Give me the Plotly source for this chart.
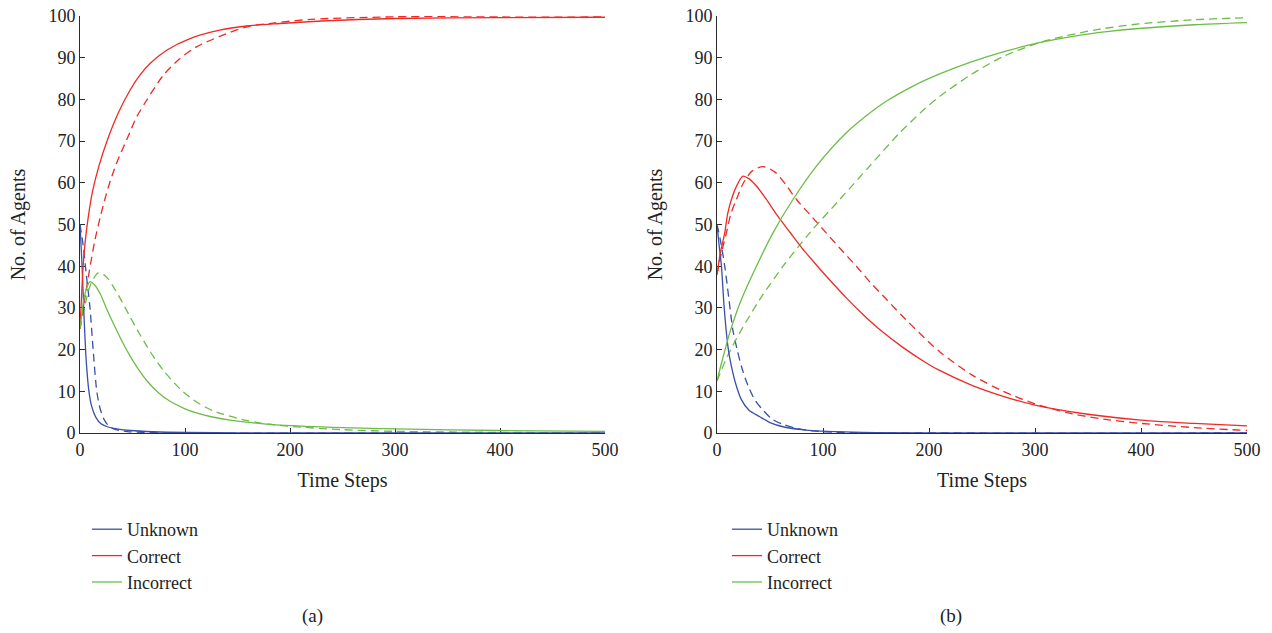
import plotly.graph_objects as go

W, H = 1272, 633

# ---------------- Panel (a) ----------------
a_unknown_solid_t = [0, 2, 4, 6, 8.5, 11, 15, 20, 26, 35, 48, 70, 100, 150, 250, 500]
a_unknown_solid_v = [50, 40, 27, 17, 10, 6.5, 3.8, 2.2, 1.5, 1.0, 0.6, 0.3, 0.12, 0.04, 0, 0]
a_unknown_dash_t = [0, 3, 6, 9.5, 12.5, 16, 19, 23, 27, 32, 38, 45, 60, 80, 120, 500]
a_unknown_dash_v = [50, 45, 38, 30, 20, 10, 6, 3.2, 1.8, 1.0, 0.6, 0.35, 0.15, 0.05, 0, 0]

a_correct_solid_t = [0, 1.5, 3, 5, 8, 12, 18, 26, 36, 47.6, 57, 66.7, 82.5, 104.8, 133, 158.7, 190.5, 230, 300, 400, 500]
a_correct_solid_v = [25, 33, 40, 46, 52, 58, 64, 70.2, 76.5, 82.2, 85.8, 88.6, 91.8, 94.6, 96.6, 97.6, 98.2, 98.8, 99.4, 99.6, 99.7]
a_correct_dash_t = [0, 2, 5, 9, 14, 20, 27, 35, 46, 54, 63.5, 79.4, 95.2, 111, 133, 158.7, 184, 220, 300, 400, 500]
a_correct_dash_v = [25, 28, 33, 39, 46, 52.5, 59, 64.8, 71.2, 75.8, 79.8, 85.8, 89.8, 92.6, 95.1, 97.4, 98.3, 99.2, 99.8, 100, 100]

a_incorrect_solid_t = [0, 3, 6, 9.5, 14, 19, 25, 31.7, 40, 47.6, 55, 63.5, 75, 85.7, 100, 111, 125, 143, 170, 190.5, 250, 300, 400, 500]
a_incorrect_solid_v = [25, 31, 34.5, 36.3, 35.5, 33.5, 30, 26.3, 22, 18.5, 15.5, 12.6, 9.6, 7.6, 5.8, 4.8, 3.9, 3.1, 2.3, 1.9, 1.3, 1.0, 0.6, 0.4]
a_incorrect_dash_t = [0, 5, 10, 17.5, 25, 31.7, 40, 47.6, 55, 63.5, 70, 79.4, 95.2, 110, 127, 158.7, 180, 200, 250, 300, 400, 500]
a_incorrect_dash_v = [25, 31, 35.5, 38.4, 37.5, 35.1, 31.5, 27.9, 24.5, 20.9, 18.3, 15.0, 10.6, 7.6, 5.3, 3.0, 2.1, 1.6, 0.8, 0.4, 0.15, 0.05]

# ---------------- Panel (b) ----------------
b_unknown_solid_t = [0, 2, 4.2, 6.5, 8.9, 11, 13.6, 18, 23, 30, 40.3, 50, 62.3, 80, 94, 120, 150, 200, 500]
b_unknown_solid_v = [50, 45, 40, 31, 24, 19.5, 16, 11.5, 8, 5.5, 3.9, 2.5, 1.5, 0.8, 0.5, 0.25, 0.1, 0.03, 0]
b_unknown_dash_t = [0, 3, 7.3, 11.3, 15.1, 19, 23, 29, 35.6, 44, 52.8, 63, 75, 90, 110, 150, 500]
b_unknown_dash_v = [50, 46.5, 40, 32, 24.5, 20, 16, 11.5, 8, 5.3, 3.2, 2, 1.1, 0.5, 0.2, 0.05, 0]

b_correct_solid_t = [0, 3, 7.3, 10, 13.6, 19, 24.5, 30, 38, 46.6, 57, 68.6, 80, 93.8, 107, 122, 137, 153.5, 175, 197.5, 210, 240, 270, 300, 350, 400, 450, 500]
b_correct_solid_v = [38, 43, 48, 52.5, 56, 59.5, 61.6, 61, 59, 56, 52.1, 48.2, 44.4, 40.3, 36.5, 32.4, 28.6, 24.8, 20.6, 16.8, 15.0, 11.5, 8.8, 6.7, 4.5, 3.1, 2.3, 1.7]
b_correct_dash_t = [0, 4, 8.9, 13, 18.3, 25, 33, 43.4, 55, 65, 75, 89, 103, 117, 131.5, 145, 160, 175, 191, 210, 240, 270, 300, 330, 360, 400, 450, 500]
b_correct_dash_v = [38, 43, 48, 52.5, 56, 60, 62.8, 63.9, 62.5, 59.5, 56, 52, 48, 44, 40, 36, 32, 28, 24, 19.5, 14, 10.0, 7.0, 4.9, 3.5, 2.3, 1.3, 0.6]

b_incorrect_solid_t = [0, 5, 12, 23, 37.2, 52.8, 71.7, 93.8, 122, 140, 160, 185, 210, 240, 270, 304, 340, 370, 398, 450, 500]
b_incorrect_solid_v = [12.5, 17.5, 24, 32, 40, 48, 56, 64, 72, 75.9, 79.6, 83.2, 86.1, 89.0, 91.4, 93.6, 95.3, 96.3, 97, 97.9, 98.4]
b_incorrect_dash_t = [0, 10, 21.4, 40.3, 62.3, 87.5, 115.8, 144, 172.4, 195, 210, 240, 270, 304, 330, 360, 398, 450, 500]
b_incorrect_dash_v = [12.5, 18.5, 24, 32, 40, 48, 56, 64, 72, 77.5, 80.7, 86, 90.3, 93.6, 95.3, 96.8, 98.1, 99.1, 99.6]

series_names = ["Unknown", "Correct", "Incorrect"]
colors = {"Unknown": "#3a4fa8", "Correct": "#ee2a26", "Incorrect": "#6cbd47"}
x_ticks = [0, 100, 200, 300, 400, 500]
y_ticks = [0, 10, 20, 30, 40, 50, 60, 70, 80, 90, 100]
x_title = "Time Steps"
y_title = "No. of Agents"
panel_labels = ["(a)", "(b)"]

panels = [
    {
        "Unknown": (a_unknown_solid_t, a_unknown_solid_v, a_unknown_dash_t, a_unknown_dash_v),
        "Correct": (a_correct_solid_t, a_correct_solid_v, a_correct_dash_t, a_correct_dash_v),
        "Incorrect": (a_incorrect_solid_t, a_incorrect_solid_v, a_incorrect_dash_t, a_incorrect_dash_v),
    },
    {
        "Unknown": (b_unknown_solid_t, b_unknown_solid_v, b_unknown_dash_t, b_unknown_dash_v),
        "Correct": (b_correct_solid_t, b_correct_solid_v, b_correct_dash_t, b_correct_dash_v),
        "Incorrect": (b_incorrect_solid_t, b_incorrect_solid_v, b_incorrect_dash_t, b_incorrect_dash_v),
    },
]

FONT = "Liberation Serif"
LW = 1.3
TXT = "#222"

fig = go.Figure()
for i, panel in enumerate(panels):
    xa = "x" if i == 0 else "x2"
    ya = "y" if i == 0 else "y2"
    lg = "legend" if i == 0 else "legend2"
    for name in series_names:
        st, sv, dt, dv = panel[name]
        fig.add_trace(go.Scatter(
            x=dt, y=dv, mode="lines", name=name, showlegend=False,
            line=dict(color=colors[name], width=LW, dash="8px,5px", shape="spline", smoothing=0.8),
            xaxis=xa, yaxis=ya, legend=lg, hoverinfo="skip"))
    for name in series_names:
        st, sv, dt, dv = panel[name]
        fig.add_trace(go.Scatter(
            x=st, y=sv, mode="lines", name=name, showlegend=True,
            line=dict(color=colors[name], width=LW, shape="spline", smoothing=0.8),
            xaxis=xa, yaxis=ya, legend=lg))

ydom = [1 - 433 / H, 1 - 16 / H]
axis_common = dict(
    showline=True, linecolor="#2b2b2b", linewidth=1, ticks="inside", ticklen=5,
    tickcolor="#2b2b2b", showgrid=False, zeroline=False, layer="below traces",
    automargin=False,
    tickfont=dict(family=FONT, size=18, color=TXT),
)

def xax(dom, anchor):
    return dict(axis_common, domain=dom, range=[0, 500], tickvals=x_ticks, anchor=anchor,
                title=dict(text=x_title, font=dict(family=FONT, size=20, color=TXT), standoff=14))

def yax(anchor):
    return dict(axis_common, domain=ydom, range=[0, 100], tickvals=y_ticks, anchor=anchor,
                title=dict(text=y_title, font=dict(family=FONT, size=20, color=TXT), standoff=17))

legend_common = dict(
    font=dict(family=FONT, size=18, color=TXT), bgcolor="rgba(0,0,0,0)",
    xanchor="left", yanchor="top", tracegroupgap=0, itemwidth=30,
)

fig.update_layout(
    width=W, height=H,
    margin=dict(l=0, r=0, t=0, b=0, autoexpand=False),
    paper_bgcolor="white", plot_bgcolor="white",
    xaxis=xax([80 / W, 605 / W], "y"),
    yaxis=yax("x"),
    xaxis2=xax([717 / W, 1247 / W], "y2"),
    yaxis2=yax("x2"),
    legend=dict(legend_common, x=87 / W, y=1 - 511 / H),
    legend2=dict(legend_common, x=727 / W, y=1 - 511 / H),
    annotations=[
        dict(text=panel_labels[0], x=312 / W, y=1 - 616 / H, xref="paper", yref="paper",
             xanchor="center", yanchor="middle",
             showarrow=False, font=dict(family=FONT, size=19, color=TXT)),
        dict(text=panel_labels[1], x=951 / W, y=1 - 616 / H, xref="paper", yref="paper",
             xanchor="center", yanchor="middle",
             showarrow=False, font=dict(family=FONT, size=19, color=TXT)),
    ],
    showlegend=True,
)

fig.write_html("out.html")
